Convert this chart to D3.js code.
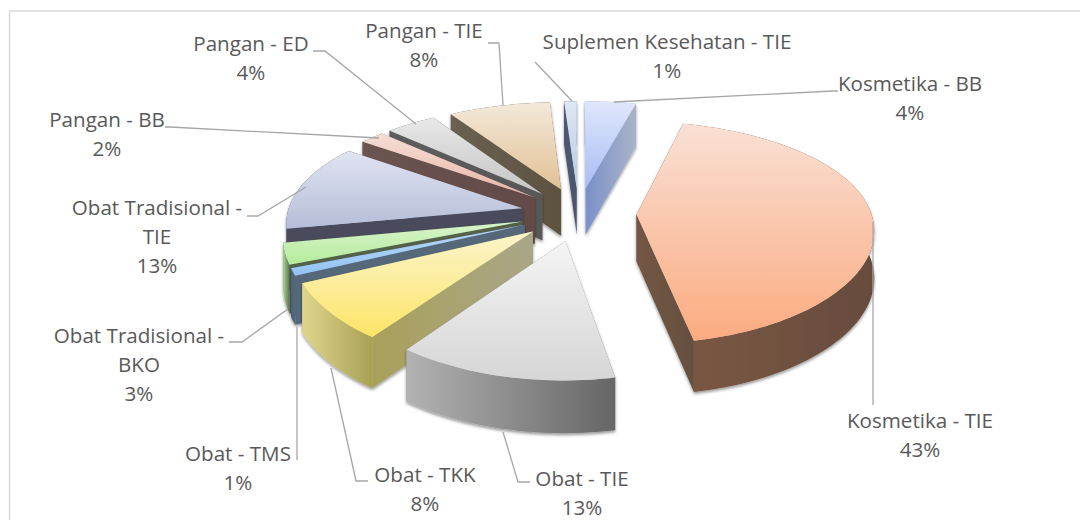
<!DOCTYPE html>
<html><head><meta charset="utf-8">
<script src="https://cdn.jsdelivr.net/npm/d3@7"></script>
<style>html,body{margin:0;background:#fff}svg{display:block}text{font-family:"Open Sans",sans-serif;font-size:20.6px;fill:#595959}</style>
</head><body><div id="c"></div>
<script>
const categories=["Kosmetika - BB","Kosmetika - TIE","Obat - TIE","Obat - TKK","Obat - TMS","Obat Tradisional - BKO","Obat Tradisional - TIE","Pangan - BB","Pangan - ED","Pangan - TIE","Suplemen Kesehatan - TIE"];
const values=[4,43,13,8,1,3,13,2,4,8,1];
const topLight=["#e0e7fb","#f9e0d4","#f4f4f4","#fbf4cc","#b9d9f7","#d8f3cc","#e0e3f1","#f5ddd6","#e8e8e8","#f3e8da","#dfe7f3"];
const topDark =["#a8bcf5","#fbab80","#d6d6d6","#fde566","#93c3f3","#b6eb9c","#b5bed9","#e8b5a8","#c4c4c4","#e2c194","#b5c9e2"];
const wallLight=["#7b90c9","#7b5743","#b2b2b2","#e0d58c","#466379","#a8d890","#4b4d5c","#6a5450","#5c5c5c","#6b6152","#4d5a72"];
const wallDark =["#a9b3c8","#664c3e","#666666","#a8a155","#55687a","#5f7353","#4a4c5b","#634a46","#585858","#5d5240","#4a566c"];
const radialLight=["#7b90c9","#735644","#8a8a8a","#a9a05a","#55687a","#52624a","#4a4c5b","#6a5450","#5c5c5c","#6b6152","#4d5a72"];
const radialDark =["#a9b3c8","#65503f","#6a6a6a","#a9a688","#55687a","#52624a","#4a4c5b","#634a46","#585858","#5d5240","#4a566c"];
const labelLines=[["Kosmetika - BB"],["Kosmetika - TIE"],["Obat - TIE"],["Obat - TKK"],["Obat - TMS"],["Obat Tradisional -","BKO"],["Obat Tradisional -","TIE"],["Pangan - BB"],["Pangan - ED"],["Pangan - TIE"],["Suplemen Kesehatan - TIE"]];
const labelAnchor=[[910,84],[920,421],[582,479],[425,475],[238,454],[139,336],[157,208],[107,120],[251,44],[424,31],[667,42]];
const leaders=[[[614,102],[833,91],[838,91]],[[873,222],[873,405]],[[503,432],[518,482],[530,482]],[[331,368],[356,481],[368,481]],[[297,327],[297,460]],[[288,309],[242,342],[229,342]],[[306,187],[258,216],[247,216]],[[379,138],[170,127],[165,127]],[[416,124],[325,51],[313,51]],[[503,105],[499,43],[488,43]],[[572,101],[535,62]]];

const W=1080,H=520,cx=578.5,cy=214,R=235,explode=58,depth=47,perspX=2000,perspY=1500,tilt=0.46;
const svg=d3.select("#c").append("svg").attr("width",W).attr("height",H);
const defs=svg.append("defs");
const fl=defs.append("filter").attr("id","sh").attr("x","-20%").attr("y","-20%").attr("width","140%").attr("height","140%");
fl.append("feDropShadow").attr("dx",0).attr("dy",2).attr("stdDeviation",1.5).attr("flood-color","#000").attr("flood-opacity",0.4);
function grad(id,c1,c2,vertical){
  const g=defs.append("linearGradient").attr("id",id).attr("x1",0).attr("y1",0).attr("x2",vertical?0:1).attr("y2",vertical?1:0);
  g.append("stop").attr("offset","0%").attr("stop-color",c1);
  g.append("stop").attr("offset","100%").attr("stop-color",c2);
}
svg.append("rect").attr("x",9.5).attr("y",11).attr("width",1120).attr("height",600).attr("fill","#fff").attr("stroke","#d9d9d9").attr("stroke-width",1.5);

function project(u,v,z){
  const fx=perspX/(perspX-v), fy=perspY/(perspY-v);
  return [cx+u*fx, cy+tilt*v*fy+z*(0.5+0.5*fy)];
}
const line=d3.line();
const pie=d3.pie().sort(null).value(d=>d)(values);
const slices=pie.map((p,i)=>{
  const mid=(p.startAngle+p.endAngle)/2;
  const ox=explode*Math.sin(mid), oy=-explode*Math.cos(mid);
  const n=Math.max(2,Math.ceil((p.endAngle-p.startAngle)/0.03));
  const rim=d3.range(n+1).map(k=>{const a=p.startAngle+(p.endAngle-p.startAngle)*k/n;return [ox+R*Math.sin(a),oy-R*Math.cos(a)];});
  return {i,apex:[ox,oy],rim};
});
const P=(q,z)=>project(q[0],q[1],z);
const order=slices.slice().sort((a,b)=>a.apex[1]-b.apex[1]);
const g=svg.append("g");
order.forEach(s=>{
  const i=s.i, sg=g.append("g").attr("filter","url(#sh)");
  grad("t"+i,topLight[i],topDark[i],true);
  grad("w"+i,wallLight[i],wallDark[i],false);
  grad("r"+i,radialLight[i],radialDark[i],false);
  const A=s.apex, a0=s.rim[0], a1=s.rim[s.rim.length-1];
  const walls=[
    {pts:[A,a0],fill:"r",v:(A[1]+a0[1])/2},
    {pts:[A,a1],fill:"r",v:(A[1]+a1[1])/2},
    {pts:s.rim,fill:"w",v:d3.mean(s.rim,q=>q[1])}
  ].sort((x,y)=>x.v-y.v);
  walls.forEach(w=>{
    const upper=w.pts.map(q=>P(q,0)), lower=w.pts.map(q=>P(q,depth)).reverse();
    sg.append("path").attr("d",line(upper.concat(lower))+"Z").attr("fill",`url(#${w.fill}${i})`);
  });
  sg.append("path").attr("d",line([A].concat(s.rim).map(q=>P(q,0)))+"Z").attr("fill",`url(#t${i})`);
});
const lg=svg.append("g").attr("fill","none").attr("stroke","#a6a6a6").attr("stroke-width",1.3);
leaders.forEach(l=>lg.append("path").attr("d",line(l)));
const tg=svg.append("g").attr("text-anchor","middle");
categories.forEach((c,i)=>{
  const lines=labelLines[i].concat([values[i]+"%"]);
  lines.forEach((t,k)=>tg.append("text").attr("x",labelAnchor[i][0]).attr("y",labelAnchor[i][1]+6.5+k*29).text(t));
});
</script></body></html>
